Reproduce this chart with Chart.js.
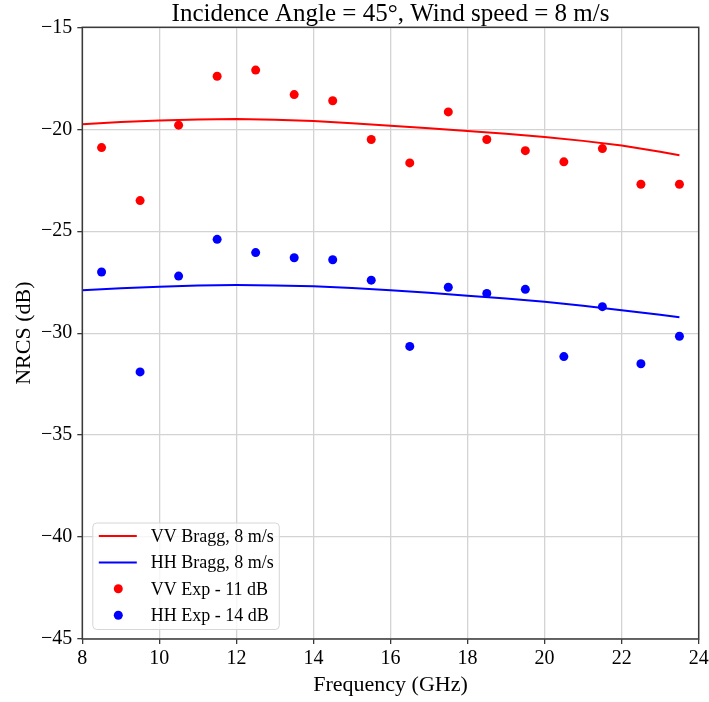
<!DOCTYPE html>
<html>
<head>
<meta charset="utf-8">
<script src="https://cdn.jsdelivr.net/npm/chart.js@4"></script>
<style>
  html, body { margin: 0; padding: 0; background: #fff; }
  #wrap { width: 709px; height: 702px; }
</style>
</head>
<body>
<div id="wrap"><canvas id="nrcsChart"></canvas></div>
<script>
const expFreq = [8.5, 9.5, 10.5, 11.5, 12.5, 13.5, 14.5, 15.5, 16.5, 17.5, 18.5, 19.5, 20.5, 21.5, 22.5, 23.5];
const vvExp = [-20.9, -23.5, -19.8, -17.4, -17.1, -18.3, -18.6, -20.5, -21.65, -19.15, -20.5, -21.05, -21.6, -20.95, -22.7, -22.7];
const hhExp = [-27.0, -31.9, -27.2, -25.4, -26.05, -26.3, -26.4, -27.4, -30.65, -27.75, -28.05, -27.85, -31.15, -28.7, -31.5, -30.15];

const braggFreq = [8, 9, 10, 11, 12, 13, 14, 15, 16, 17, 18, 19, 20, 21, 22, 23, 23.5];
const vvBragg = [-19.75, -19.65, -19.57, -19.52, -19.5, -19.53, -19.6, -19.7, -19.83, -19.95, -20.08, -20.22, -20.38, -20.57, -20.8, -21.1, -21.27];
const hhBragg = [-27.9, -27.8, -27.72, -27.66, -27.64, -27.66, -27.7, -27.78, -27.9, -28.02, -28.16, -28.3, -28.46, -28.66, -28.88, -29.1, -29.22];

const xTicks = [8, 10, 12, 14, 16, 18, 20, 22, 24];
const yTicks = [-45, -40, -35, -30, -25, -20, -15];

const SERIF = "'Liberation Serif', 'Times New Roman', serif";
const pts = (xs, ys) => xs.map((x, i) => ({ x: x, y: ys[i] }));

// legend inside the axes, lower left, like matplotlib
const insideLegend = {
  id: "insideLegend",
  afterDatasetsDraw(chart) {
    const ctx = chart.ctx;
    const area = chart.chartArea;
    const x0 = area.left + 10.5, y1 = area.bottom - 9.5;
    const w = 186.5, h = 106.5, y0 = y1 - h;
    ctx.save();
    ctx.beginPath();
    ctx.roundRect(x0, y0, w, h, 4);
    ctx.fillStyle = "rgba(255,255,255,0.8)";
    ctx.fill();
    ctx.strokeStyle = "#d6d6d6";
    ctx.lineWidth = 1;
    ctx.stroke();
    ctx.font = "18px " + SERIF;
    ctx.textBaseline = "middle";
    ctx.fillStyle = "#000";
    chart.data.datasets.forEach((ds, i) => {
      const cy = y0 + 13 + i * 26.4;
      if (ds.showLine) {
        ctx.strokeStyle = ds.borderColor;
        ctx.lineWidth = 2;
        ctx.beginPath();
        ctx.moveTo(x0 + 6, cy);
        ctx.lineTo(x0 + 44, cy);
        ctx.stroke();
      } else {
        ctx.fillStyle = ds.backgroundColor;
        ctx.beginPath();
        ctx.arc(x0 + 25.5, cy, 4.5, 0, Math.PI * 2);
        ctx.fill();
        ctx.fillStyle = "#000";
      }
      ctx.fillText(ds.label, x0 + 58, cy + 1);
    });
    ctx.restore();
  },
  afterDraw(chart) {
    const ctx = chart.ctx;
    const a = chart.chartArea;
    ctx.save();
    ctx.strokeStyle = "#3a3a3a";
    ctx.lineWidth = 1.5;
    ctx.strokeRect(a.left, a.top, a.right - a.left, a.bottom - a.top);
    ctx.restore();
  },
};

new Chart(document.getElementById("nrcsChart"), {
  type: "scatter",
  data: {
    datasets: [
      {
        label: "VV Bragg, 8 m/s",
        data: pts(braggFreq, vvBragg),
        showLine: true,
        borderColor: "#ff0000",
        backgroundColor: "#ff0000",
        borderWidth: 2,
        pointRadius: 0,
      },
      {
        label: "HH Bragg, 8 m/s",
        data: pts(braggFreq, hhBragg),
        showLine: true,
        borderColor: "#0000ff",
        backgroundColor: "#0000ff",
        borderWidth: 2,
        pointRadius: 0,
      },
      {
        label: "VV Exp - 11 dB",
        data: pts(expFreq, vvExp),
        showLine: false,
        backgroundColor: "#ff0000",
        borderWidth: 0,
        pointRadius: 4.5,
      },
      {
        label: "HH Exp - 14 dB",
        data: pts(expFreq, hhExp),
        showLine: false,
        backgroundColor: "#0000ff",
        borderWidth: 0,
        pointRadius: 4.5,
      },
    ],
  },
  options: {
    responsive: true,
    maintainAspectRatio: false,
    animation: false,
    layout: { padding: { top: 0, right: 10.3, bottom: 0, left: 0 } },
    plugins: {
      legend: { display: false },
      tooltip: { enabled: false },
      title: {
        display: true,
        text: "Incidence Angle = 45\u00b0, Wind speed = 8 m/s",
        color: "#000",
        fullSize: false,
        font: { family: SERIF, size: 25, weight: "normal", lineHeight: 1.0 },
        padding: { top: 2, bottom: 0.3 },
      },
    },
    scales: {
      x: {
        type: "linear",
        min: 8,
        max: 24,
        afterBuildTicks: (s) => { s.ticks = xTicks.map((v) => ({ value: v })); },
        afterFit: (s) => { s.height = 63; s.paddingLeft = 0; s.paddingRight = 0; },
        ticks: {
          color: "#000",
          padding: 3,
          font: { family: SERIF, size: 20 },
        },
        grid: { color: "#d3d3d3", lineWidth: 1.3, tickColor: "#3a3a3a", tickLength: 5 },
        border: { display: false },
        title: {
          display: true,
          text: "Frequency (GHz)",
          color: "#000",
          font: { family: SERIF, size: 22 },
          padding: { top: 0, bottom: 4 },
        },
      },
      y: {
        type: "linear",
        min: -45,
        max: -15,
        afterBuildTicks: (s) => { s.ticks = yTicks.map((v) => ({ value: v })); },
        afterFit: (s) => { s.width = 82.3; s.paddingTop = 0; s.paddingBottom = 0; },
        ticks: {
          color: "#000",
          padding: 5,
          font: { family: SERIF, size: 20 },
          callback: (v) => (v < 0 ? "\u2212" + Math.abs(v) : String(v)),
        },
        grid: { color: "#d3d3d3", lineWidth: 1.3, tickColor: "#3a3a3a", tickLength: 5 },
        border: { display: false },
        title: {
          display: true,
          text: "NRCS (dB)",
          color: "#000",
          font: { family: SERIF, size: 22 },
          padding: { top: 11, bottom: 0 },
        },
      },
    },
  },
  plugins: [insideLegend],
});
</script>
</body>
</html>
